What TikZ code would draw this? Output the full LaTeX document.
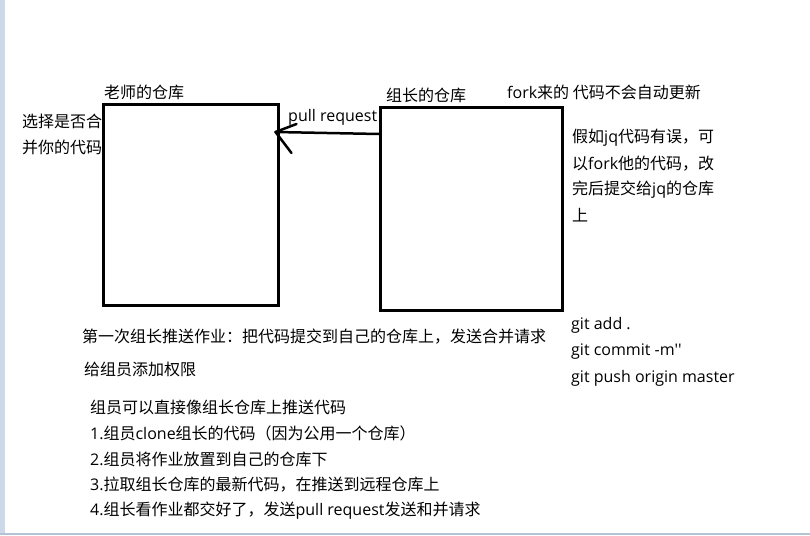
\documentclass[tikz,border=0pt]{standalone}
\usepackage{fontspec}
\setmainfont{Noto Sans CJK SC}
\newfontfamily\en{Open Sans}
\usetikzlibrary{arrows.meta}

\definecolor{edgeblue}{RGB}{205,216,232}
\definecolor{edgegrey}{RGB}{180,196,214}

\begin{document}
\begin{tikzpicture}[x=1pt, y=-1pt,
    repo/.style={draw, line width=3pt, inner sep=0pt},
    note/.style={anchor=west, inner sep=0pt, font=\fontsize{16}{20}\selectfont}]

    \useasboundingbox (0,0) rectangle (810,535);
    % window edges of the screenshot
    \fill [edgeblue] (0,0) rectangle (5,535);
    \fill [edgegrey] (0,533) rectangle (810,535);

    % teacher's repository
    \node [repo, minimum width=175pt, minimum height=201pt] at (190.5,204.5) (teacher) {};
    \node [note] at (104,92) (teacherlabel) {老师的仓库};
    \node [note] at (22,121) (choose1) {选择是否合};
    \node [note] at (22,147) (choose2) {并你的代码};

    % group leader's repository
    \node [repo, minimum width=182pt, minimum height=203pt] at (471.5,208.5) (leader) {};
    \node [note] at (386,95) (leaderlabel) {组长的仓库};

    % pull request from the leader back to the teacher, head drawn by hand
    \coordinate (tip) at ([xshift=-4pt, yshift=72.5pt]teacher.east);
    \draw [line width=2.5pt, line cap=round] ([yshift=74.5pt]leader.west) -- (tip);
    \draw [line width=2.5pt, line cap=round] (tip) -- ++(21,-8);
    \draw [line width=2.5pt, line cap=round] (tip) -- ++(16,21);
    \node [note] at (288,117) (pr) {{\en pull request}};

    % notes about fork
    \node [note] at (507,92) (forknote) {{\en fork}来的 代码不会自动更新};
    \node [note] at (572,138) (wrong1) {假如{\en jq}代码有误，可};
    \node [note] at (572,164) (wrong2) {以{\en fork}他的代码，改};
    \node [note] at (572,190) (wrong3) {完后提交给{\en jq}的仓库};
    \node [note] at (572,215) (wrong4) {上};

    % git commands
    \node [note] at (571,325) (gitadd) {\en git add .};
    \node [note] at (571,352) (gitcommit) {\en git commit -m''};
    \node [note] at (571,378) (gitpush) {\en git push origin master};

    % first push and permissions
    \node [note] at (82,337) (firstpush) {第一次组长推送作业：把代码提交到自己的仓库上，发送合并请求};
    \node [note] at (84,369) (rights) {给组员添加权限};

    % steps for the group members
    \node [note] at (90,407) (members) {组员可以直接像组长仓库上推送代码};
    \node [note] at (90,433) (step1) {{\en 1.}组员{\en clone}组长的代码（因为公用一个仓库）};
    \node [note] at (90,459) (step2) {{\en 2.}组员将作业放置到自己的仓库下};
    \node [note] at (90,485) (step3) {{\en 3.}拉取组长仓库的最新代码，在推送到远程仓库上};
    \node [note] at (90,511) (step4) {{\en 4.}组长看作业都交好了，发送{\en pull request}发送和并请求};

\end{tikzpicture}
\end{document}
